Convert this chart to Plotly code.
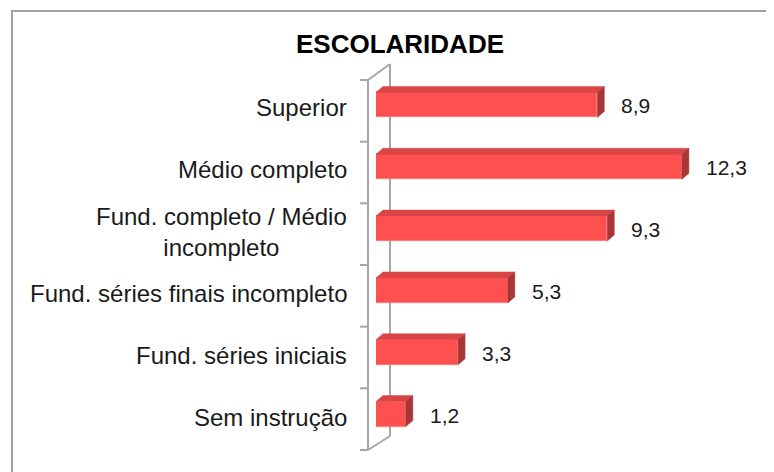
import plotly.graph_objects as go

# data (bottom to top, as drawn)
categories = [
    "Sem instrução",
    "Fund. séries iniciais",
    "Fund. séries finais incompleto",
    "Fund. completo / Médio<br>incompleto",
    "Médio completo",
    "Superior",
]
values = [1.2, 3.3, 5.3, 9.3, 12.3, 8.9]
chart_title = "ESCOLARIDADE"

# page / plot area in pixels (OFF compensates the 8px body margin of the page)
W, H = 774, 472
OFF = 8
plot_w, plot_h = 373, 371
L, T = 376 - OFF, 74 - OFF
R = W - L - plot_w
B = H - T - plot_h
X_MAX = 15

FRONT = "#FF5050"
TOP = "#D94545"
SIDE = "#A93636"
GRID = "#A6A6A6"

bar_w = 25 / (plot_h / 6)          # bar thickness in y units
dx = 7 / (plot_w / X_MAX)          # 3d depth, x units
dy = 6 / (plot_h / 6)              # 3d depth, y units


def px(x, y):
    """reference pixel -> paper coords"""
    x, y = x - OFF, y - OFF
    return (x - L) / plot_w, (H - B - y) / plot_h


ypos = list(range(len(categories)))

fig = go.Figure()

# front faces
fig.add_trace(go.Bar(
    x=values, y=ypos, orientation="h", width=bar_w,
    marker=dict(color=FRONT, line=dict(color="#FF7A7A", width=0.6)),
    hoverinfo="skip", showlegend=False,
))

# top and side faces of the 3d boxes
top_x, top_y, side_x, side_y = [], [], [], []
for v, y in zip(values, ypos):
    y1 = y + bar_w / 2
    y0 = y - bar_w / 2
    top_x += [0, dx, v + dx, v, 0, None]
    top_y += [y1, y1 + dy, y1 + dy, y1, y1, None]
    side_x += [v, v + dx, v + dx, v, v, None]
    side_y += [y0, y0 + dy, y1 + dy, y1, y0, None]

fig.add_trace(go.Scatter(x=top_x, y=top_y, fill="toself", fillcolor=TOP,
                         mode="lines", line=dict(color=TOP, width=0.5),
                         hoverinfo="skip", showlegend=False))
fig.add_trace(go.Scatter(x=side_x, y=side_y, fill="toself", fillcolor=SIDE,
                         mode="lines", line=dict(color=SIDE, width=0.5),
                         hoverinfo="skip", showlegend=False))

# left wall of the 3d chart
shapes = []
front_x, back_x = 368, 390
front_top, front_bot = 80, 450
back_top, back_bot = 64, 436


def line(p0, p1, width=2):
    a, b = px(*p0), px(*p1)
    shapes.append(dict(type="line", xref="paper", yref="paper",
                       x0=a[0], y0=a[1], x1=b[0], y1=b[1],
                       line=dict(color=GRID, width=width), layer="below"))


line((front_x, front_top), (front_x, front_bot))
line((back_x, back_top), (back_x, back_bot))
line((front_x, front_top), (back_x, back_top))
line((front_x, front_bot), (back_x, back_bot))
step = (front_bot - front_top) / len(categories)
for i in range(len(categories) + 1):
    yy = front_top + i * step
    line((front_x - 8, yy), (front_x, yy))

# outer frame (only left and top edges are visible)
a, b = px(12, 11), px(W + 20, H + 20)
shapes.append(dict(type="rect", xref="paper", yref="paper",
                   x0=a[0], y0=b[1], x1=b[0], y1=a[1],
                   line=dict(color="#A0A0A0", width=2)))

annotations = []
lx, _ = px(349, 0)
for cat, y in zip(categories, ypos):
    annotations.append(dict(
        x=lx, xref="paper", y=y, yref="y", text=cat, showarrow=False,
        xanchor="right", yanchor="middle", align="center", yshift=-3,
        font=dict(family="Liberation Sans, Arial", size=24, color="#1a1a1a"),
    ))
for v, y in zip(values, ypos):
    annotations.append(dict(
        x=v, xref="x", y=y, yref="y", text=f"{v:.1f}".replace(".", ","),
        showarrow=False, xanchor="left", yanchor="middle", xshift=22, yshift=-1,
        font=dict(family="Liberation Sans, Arial", size=21, color="#1a1a1a"),
    ))

tx, ty = px(400, 44)
annotations.append(dict(
    x=tx, xref="paper", y=ty, yref="paper", text=f"<b>{chart_title}</b>",
    showarrow=False, xanchor="center", yanchor="middle",
    font=dict(family="Liberation Sans, Arial", size=26, color="#000000"),
))

fig.update_layout(
    width=W, height=H,
    margin=dict(l=L, r=R, t=T, b=B),
    paper_bgcolor="white", plot_bgcolor="white",
    xaxis=dict(range=[0, X_MAX], visible=False, fixedrange=True),
    yaxis=dict(range=[-0.5, len(categories) - 0.5], visible=False, fixedrange=True),
    shapes=shapes, annotations=annotations,
    bargap=0, showlegend=False,
)

fig.write_html("out.html")
